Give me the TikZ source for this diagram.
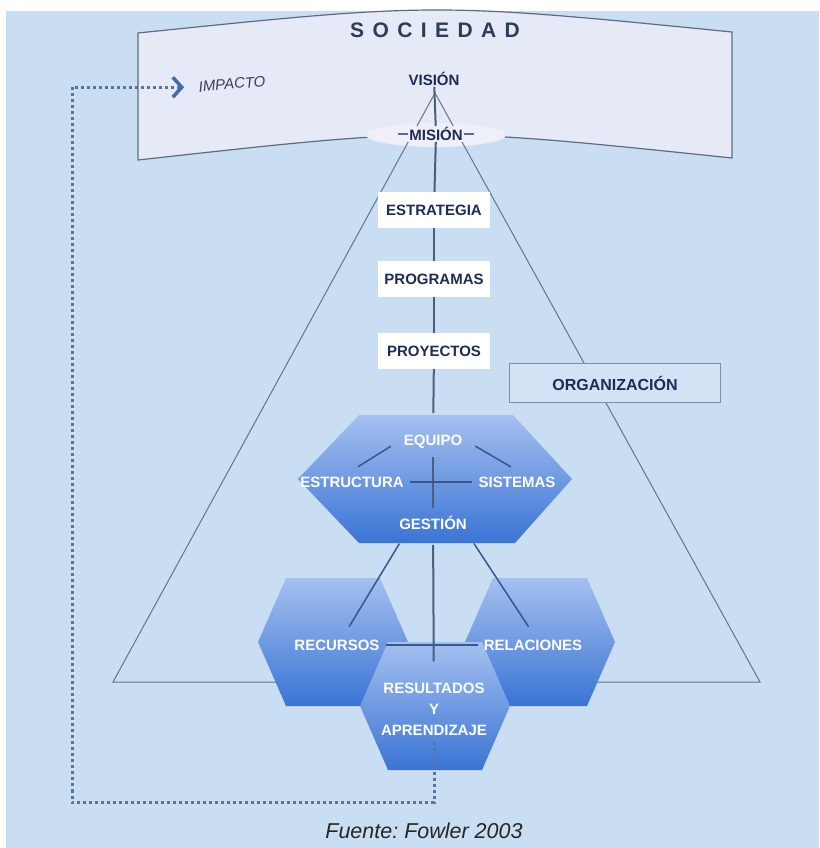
\documentclass[tikz,border=0pt]{standalone}
\usepackage{fontspec}
\setmainfont{Liberation Sans}
\newfontfamily\spacedfont[LetterSpace=40]{Liberation Sans}
\usepackage{tikz}
\usetikzlibrary{arrows.meta,positioning}

\definecolor{bgblue}{HTML}{C9DDF3}
\definecolor{bannerfill}{HTML}{E6E9F6}
\definecolor{bannerline}{HTML}{5F6B80}
\definecolor{halo}{HTML}{EEEFF8}
\definecolor{navy}{HTML}{1E2B57}
\definecolor{slate}{HTML}{2D3C58}
\definecolor{triline}{HTML}{66758C}
\definecolor{axisline}{HTML}{4B5F7D}
\definecolor{hexlight}{HTML}{A5C0F0}
\definecolor{hexmid}{HTML}{6893E0}
\definecolor{hexdark}{HTML}{3A74D4}
\definecolor{hexrule}{HTML}{34588F}
\definecolor{orgline}{HTML}{7D8FA8}
\definecolor{orgfill}{HTML}{D3E3F5}
\definecolor{dotblue}{HTML}{56769F}
\definecolor{chevron}{HTML}{3E6CB0}
\definecolor{greytext}{HTML}{3B4252}

\newcommand{\stagefont}{\fontsize{15}{18}\selectfont\bfseries}
\newcommand{\hexfont}{\fontsize{15}{21}\selectfont\bfseries}
\newcommand{\orgfont}{\fontsize{16}{19}\selectfont\bfseries}
\newcommand{\socfont}{\spacedfont\fontsize{21}{25}\selectfont\bfseries}

\begin{document}
\frenchspacing
\begin{tikzpicture}
[
	               x = 1pt,
	               y = -1pt,
	  stagebox/.style = { fill=white, text=navy, font=\stagefont, minimum width=112pt, minimum height=36pt, inner sep=0pt },
	   toptext/.style = { text=navy, font=\stagefont, inner sep=1pt },
	    orgbox/.style = { draw=orgline, line width=1.5pt, fill=orgfill, text=navy, font=\orgfont, minimum width=211pt, minimum height=39pt },
	  hexlabel/.style = { text=white, font=\hexfont, inner sep=6pt, align=center },
	      hexa/.style = { top color=hexlight, middle color=hexmid, bottom color=hexdark },
	   hexrule/.style = { draw=hexrule, line width=1.5pt },
	      axis/.style = { draw=axisline, line width=2pt },
	       tri/.style = { draw=triline, line width=1pt },
	    impact/.style = { draw=dotblue, line width=3pt, dash pattern=on 3pt off 3pt,
	                      -{Straight Barb[length=9pt,width=20pt,line width=3.5pt,color=chevron]} }
]
	\useasboundingbox (0,0) rectangle (819,848);
	\fill [white] (0,0) rectangle (819,848);
	\fill [bgblue] (6,11) rectangle (819,848);

	\draw [fill=bannerfill, draw=bannerline, line width=1.2pt]
		(138,33) .. controls (435,2.5) .. (732,32) -- (732,158)
		.. controls (435,127) .. (138,160) -- cycle;
	\fill [halo] (436,135) ellipse (70 and 12);

	\draw [tri] (435,93) -- (113,682) -- (760,682) -- cycle;

	\foreach \cx/\cy in {333/642, 540/642, 435/706}
		\shade [hexa] (\cx-75,\cy) -- (\cx-47,\cy-64) -- (\cx+47,\cy-64)
			-- (\cx+75,\cy) -- (\cx+47,\cy+64) -- (\cx-47,\cy+64) -- cycle;
	\shade [hexa] (298,479) -- (359,415) -- (513,415) -- (572,479) -- (515,543) -- (359,543) -- cycle;

	\node (sociedad) at (435,30) [text=slate, font=\socfont] {SOCIEDAD};
	\node (vision) at (434,79) [toptext, fill=bannerfill] {VISIÓN};
	\node (mision) at (436,134) [toptext, fill=halo] {MISIÓN};
	\node (impacto) at (232,84) [rotate=5, text=greytext, font=\fontsize{15}{18}\selectfont\itshape] {IMPACTO};

	\node (estrategia) at (434,210) [stagebox] {ESTRATEGIA};
	\node (programas)  at (434,279) [stagebox] {PROGRAMAS};
	\node (proyectos)  at (434,351) [stagebox] {PROYECTOS};
	\node (organizacion) at (615,383) [orgbox] {ORGANIZACIÓN};

	\node (equipo)     at (433,442) [hexlabel] {EQUIPO};
	\node (estructura) at (352,482) [hexlabel] {ESTRUCTURA};
	\node (sistemas)   at (517,482) [hexlabel] {SISTEMAS};
	\node (gestion)    at (433,523) [hexlabel] {GESTIÓN};
	\node (recursos)   at (337,645) [hexlabel] {RECURSOS};
	\node (relaciones) at (533,645) [hexlabel] {RELACIONES};
	\node (resultados) at (434,709) [hexlabel] {RESULTADOS\\Y\\APRENDIZAJE};

	\node (fuente) at (424,831) [text=black!85, font=\fontsize{21.5}{26}\selectfont\itshape] {Fuente: Fowler 2003};

	\draw [bannerline, line width=1.2pt] (mision.west) -- +(-10,0);
	\draw [bannerline, line width=1.2pt] (mision.east) -- +(10,0);

	\draw [axis] (vision) -- (mision);
	\draw [axis] (mision) -- (estrategia);
	\draw [axis] (estrategia) -- (programas);
	\draw [axis] (programas) -- (proyectos);
	\draw [axis, shorten >=16pt] (proyectos) -- (equipo);
	\draw [axis, shorten <=2pt, shorten >=2pt] (equipo) -- (gestion);
	\draw [axis, shorten <=9pt, shorten >=15pt] (gestion) -- (resultados);

	\draw [hexrule, shorten <=8pt, shorten >=7pt] (equipo.west) -- (estructura.north);
	\draw [hexrule, shorten <=8pt, shorten >=7pt] (equipo.east) -- (sistemas.north);
	\draw [hexrule] (estructura) -- (sistemas);
	\draw [hexrule, shorten <=9pt, shorten >=8pt] ([xshift=11pt]gestion.south west) -- ([xshift=8pt]recursos.north);
	\draw [hexrule, shorten <=9pt, shorten >=8pt] ([xshift=-4pt]gestion.south east) -- (relaciones.north);
	\draw [hexrule] (recursos) -- (relaciones);

	\coordinate (lowcorner) at (72,802);
	\draw [impact, shorten >=11pt] (resultados.south) |- (lowcorner) |- (impacto.west);

\end{tikzpicture}
\end{document}
